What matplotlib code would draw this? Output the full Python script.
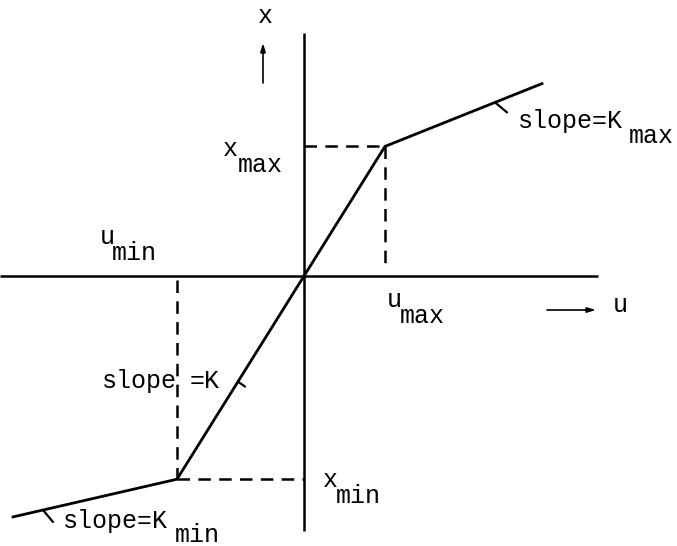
import numpy as np
import matplotlib
matplotlib.use("Agg")
import matplotlib.pyplot as plt

# saturation characteristic: linear gain K between the limits,
# reduced slopes K_max / K_min beyond them
K = 1.6
u_max = 0.81
u_min = -1.27
x_max = K * u_max
x_min = K * u_min
K_max = 0.40
K_min = 0.23
u_hi = 2.38   # right end of the drawn curve
u_lo = -2.91  # left end of the drawn curve

u_axis = [-3.04, 2.94]
x_axis = [-2.55, 2.43]

plt.rcParams['lines.scale_dashes'] = False
font = dict(family=['Liberation Mono', 'DejaVu Sans Mono'], size=18, color='black')


def curve(u):
    u = np.asarray(u, dtype=float)
    return np.where(u > u_max, x_max + K_max * (u - u_max),
                    np.where(u < u_min, x_min + K_min * (u - u_min), K * u))


fig = plt.figure(figsize=(6.77, 5.46), dpi=100)
ax = fig.add_axes([0, 0, 1, 1])
ax.set_xlim(-3.04, 3.73)
ax.set_ylim(-2.70, 2.76)
ax.axis('off')

# axes through the origin
ax.plot(u_axis, [0, 0], color='black', lw=1.8, solid_capstyle='butt')
ax.plot([0, 0], x_axis, color='black', lw=1.8, solid_capstyle='butt')

# the characteristic
us = np.array([u_lo, u_min, 0, u_max, u_hi])
ax.plot(us, curve(us), color='black', lw=2.0, solid_joinstyle='miter')

# dashed guides to the limits
dash = dict(color='black', lw=1.8, linestyle=(0, (9, 6)))
ax.plot([0, u_max], [x_max, x_max], **dash)
ax.plot([u_max, u_max], [x_max, 0.08], **dash)
ax.plot([u_min, u_min], [-0.04, x_min], **dash)
ax.plot([u_min, 0], [x_min, x_min], **dash)

# little slope marks on each segment
for u0, du, dx in [(1.91, 0.12, -0.10), (-2.61, 0.10, -0.12), (-0.66, 0.07, -0.05)]:
    x0 = float(curve(u0))
    ax.plot([u0, u0 + du], [x0, x0 + dx], color='black', lw=1.6, solid_capstyle='round')

# direction arrows for the axes
arrow = dict(arrowstyle='-|>,head_length=0.5,head_width=0.15', color='black', lw=1.2,
             shrinkA=0, shrinkB=0)
ax.annotate('', xy=(-0.41, 2.33), xytext=(-0.41, 1.93), arrowprops=arrow)
ax.annotate('', xy=(2.92, -0.34), xytext=(2.43, -0.34), arrowprops=arrow)
ax.text(-0.39, 2.53, 'x', ha='center', va='baseline', **font)
ax.text(3.09, -0.36, 'u', ha='left', va='baseline', **font)

# limit labels, typewriter style subscripts
def label(u, x, main, sub, dsub=0.13):
    ax.text(u, x, main, ha='left', va='baseline', **font)
    ax.text(u + dsub, x - 0.16, sub, ha='left', va='baseline', **font)


label(x_max - 2.11, x_max - 0.10, 'x', 'max', 0.15)
label(u_min - 0.77, 0.32, 'u', 'min', 0.12)
label(u_max + 0.02, -0.31, 'u', 'max')
label(0.19, x_min - 0.08, 'x', 'min')

ax.text(2.14, 1.48, 'slope=K', ha='left', va='baseline', **font)
ax.text(3.25, 1.33, 'max', ha='left', va='baseline', **font)
ax.text(-2.41, -2.52, 'slope=K', ha='left', va='baseline', **font)
ax.text(-1.29, -2.66, 'min', ha='left', va='baseline', **font)
ax.text(-2.02, -1.12, 'slope', ha='left', va='baseline', **font)
ax.text(-1.14, -1.12, '=K', ha='left', va='baseline', **font)

fig.savefig('out.png', dpi=100)
